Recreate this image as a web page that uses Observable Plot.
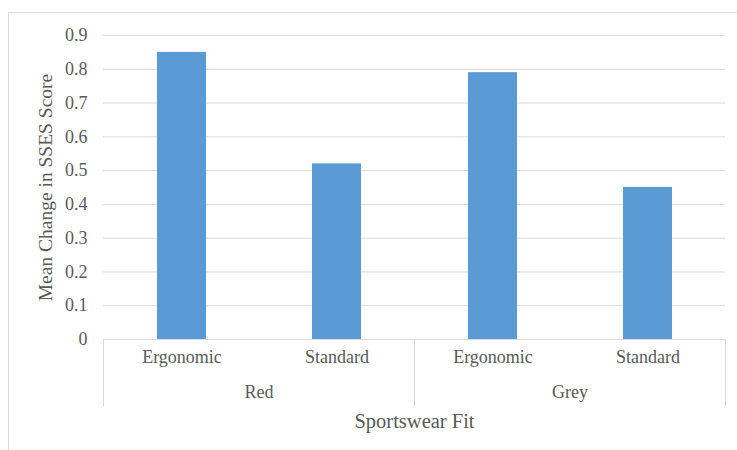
<!DOCTYPE html>
<html>
<head>
<meta charset="utf-8">
<script src="https://cdn.jsdelivr.net/npm/d3@7"></script>
<script src="https://cdn.jsdelivr.net/npm/@observablehq/plot@0.6"></script>
<style>
  html, body { margin: 0; padding: 0; background: #fff; }
  #wrap { position: relative; width: 737px; height: 450px; overflow: hidden; }
  #border { position: absolute; left: 8px; top: 12px; width: 800px; height: 500px;
            border-left: 1px solid #d9d9d9; border-top: 1px solid #d9d9d9; }
  #chart { position: absolute; left: 0; top: 0; }
  #chart svg text { font-family: 'Liberation Serif', 'Times New Roman', serif; }
  #chart svg g[aria-label="y-axis label"] { font-size: 19.5px; }
  #chart svg g[aria-label="fx-axis label"] { font-size: 20.5px; }
</style>
</head>
<body>
<div id="wrap"><div id="border"></div><div id="chart"></div></div>
<script>
const groups = ["Red", "Grey"];
const fits = ["Ergonomic", "Standard"];
const redValues = [0.85, 0.52];
const greyValues = [0.79, 0.45];
const yTicks = [0, 0.1, 0.2, 0.3, 0.4, 0.5, 0.6, 0.7, 0.8, 0.9];

const seriesByGroup = { Red: redValues, Grey: greyValues };
const data = groups.flatMap(g => fits.map((f, i) => ({ group: g, fit: f, value: seriesByGroup[g][i] })));

const grey = "#d9d9d9";
const textColor = "#595959";
const serif = "'Liberation Serif', 'Times New Roman', serif";

const chart = Plot.plot({
  width: 737,
  height: 450,
  marginLeft: 103,
  marginRight: 12,
  marginTop: 35,
  marginBottom: 111,
  style: { fontFamily: serif, fontSize: "18px", color: textColor, background: "transparent" },
  fx: { domain: groups, padding: 0, label: null },
  x: { domain: fits, paddingInner: 0.685, paddingOuter: 0.3425, label: null },
  y: { domain: [0, 0.9], label: null },
  marks: [
    Plot.gridY(yTicks, { stroke: grey, strokeOpacity: 1 }),
    Plot.barY(data, { fx: "group", x: "fit", y: "value", fill: "#5B9BD5" }),
    Plot.ruleY([0], { stroke: grey }),
    Plot.frame({ anchor: "left", stroke: grey, strokeOpacity: 1, insetTop: 304, insetBottom: -66 }),
    Plot.frame({ anchor: "right", stroke: grey, strokeOpacity: 1, insetTop: 304, insetBottom: -66 }),
    Plot.axisY(yTicks, {
      tickSize: 0, tickPadding: 16, fontSize: 18, fontFamily: serif,
      tickFormat: d => String(+d.toFixed(1)),
      label: "Mean Change in SSES Score", labelAnchor: "center", labelArrow: "none", labelOffset: 65
    }),
    Plot.axisX({ tickSize: 0, tickPadding: 11, fontSize: 18, fontFamily: serif, label: null }),
    Plot.axisFx({
      anchor: "bottom",
      tickSize: 0, tickPadding: 46, fontSize: 18, fontFamily: serif,
      label: "Sportswear Fit", labelAnchor: "center", labelArrow: "none", labelOffset: 88
    })
  ]
});
document.getElementById("chart").appendChild(chart);
</script>
</body>
</html>
